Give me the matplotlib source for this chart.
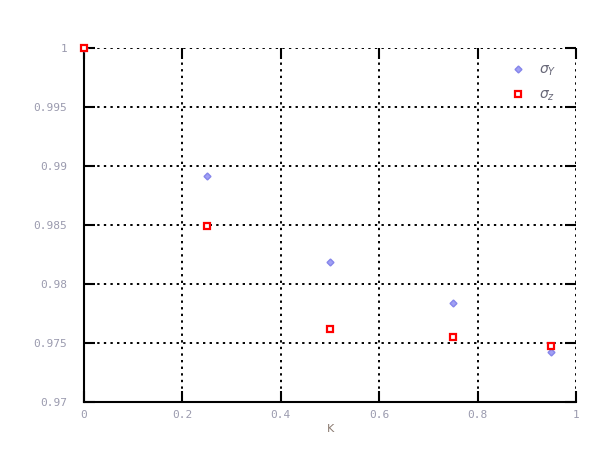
import matplotlib.pyplot as plt

# valores
k = [0, 0.25, 0.5, 0.75, 0.95]
sigma_y = [1.0, 0.98915, 0.98186, 0.97839, 0.97424]
sigma_z = [1.0, 0.98492, 0.97619, 0.97551, 0.97475]

xticks = [0, 0.2, 0.4, 0.6, 0.8, 1]
xlabels = ['0', '0.2', '0.4', '0.6', '0.8', '1']
yticks = [0.97, 0.975, 0.98, 0.985, 0.99, 0.995, 1.0]
ylabels = ['0.97', '0.975', '0.98', '0.985', '0.99', '0.995', '1']

cor_texto = '#9a9aae'

fig = plt.figure(figsize=(6, 4.49), dpi=100)
ax = fig.add_axes([0.14, 0.1047, 0.82, 0.7884])

ax.plot(k, sigma_y, linestyle='none', marker='D', markersize=3.5,
        color='#a0a0f4', markeredgecolor='#8585ea', label=r'$\sigma_Y$', clip_on=False, zorder=3)
ax.plot(k, sigma_z, linestyle='none', marker='s', markersize=4.8,
        markerfacecolor='white', markeredgecolor='red', markeredgewidth=1.6,
        label=r'$\sigma_z$', clip_on=False, zorder=3)

ax.set_xlim(0, 1)
ax.set_ylim(0.97, 1.0)
ax.set_xticks(xticks)
ax.set_xticklabels(xlabels)
ax.set_yticks(yticks)
ax.set_yticklabels(ylabels)

# grade pontilhada preta, estilo matlab antigo
ax.grid(True, color='black', linestyle=(0, (1.2, 2.2)), linewidth=1.4)
ax.tick_params(direction='in', length=8, width=1.5, colors='black',
               top=True, right=True, labelsize=8, labelcolor=cor_texto)
ax.tick_params(axis='y', pad=12)
ax.tick_params(axis='x', pad=6)
for lab in ax.get_xticklabels() + ax.get_yticklabels():
    lab.set_family('DejaVu Sans Mono')

ax.spines['left'].set_linewidth(1.5)
ax.spines['bottom'].set_linewidth(1.5)
ax.spines['top'].set_visible(False)
ax.spines['right'].set_visible(False)

ax.set_xlabel('K', fontsize=8, color='#8a7a70', labelpad=3)

leg = ax.legend(loc='upper left', bbox_to_anchor=((503 - 84) / 492, 0.975),
                frameon=False, fontsize=10, labelspacing=0.7,
                handletextpad=0.9, handlelength=1.3, borderaxespad=0)
for t in leg.get_texts():
    t.set_color('#686878')

fig.savefig('out.png', dpi=100)
